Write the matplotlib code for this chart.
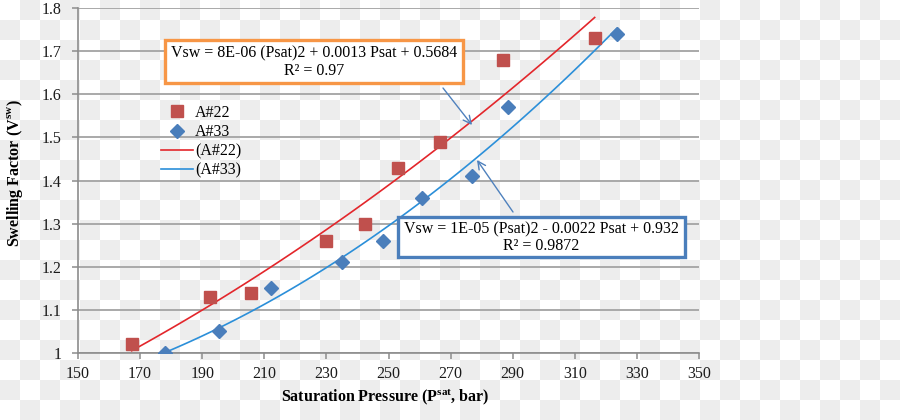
import numpy as np
import matplotlib.pyplot as plt
from matplotlib.patches import Rectangle
from matplotlib.lines import Line2D

plt.rcParams['font.family'] = ['Liberation Serif', 'DejaVu Serif']
plt.rcParams['mathtext.fontset'] = 'custom'
plt.rcParams['mathtext.rm'] = 'Liberation Serif'
plt.rcParams['mathtext.bf'] = 'Liberation Serif:bold'

# data
p22 = [167.3, 192.4, 205.8, 230.0, 242.3, 253.1, 266.7, 286.8, 316.4]
v22 = [1.02, 1.13, 1.14, 1.26, 1.30, 1.43, 1.49, 1.68, 1.73]
p33 = [178.0, 195.4, 212.0, 234.9, 248.2, 260.8, 276.8, 288.6, 323.5]
v33 = [1.00, 1.05, 1.15, 1.21, 1.26, 1.36, 1.41, 1.57, 1.74]

eq22 = "Vsw = 8E-06 (Psat)2 + 0.0013 Psat + 0.5684\nR\u00b2 = 0.97"
eq33 = "Vsw = 1E-05 (Psat)2 - 0.0022 Psat + 0.932\nR\u00b2 = 0.9872"

W, H = 900, 420
fig = plt.figure(figsize=(9, 4.2), dpi=100)

# checkerboard background (transparent png look)
yy, xx = np.mgrid[0:H, 0:W]
board = np.where(((xx // 20) + (yy // 20)) % 2 == 1, 0.93, 1.0)
fig.figimage(np.dstack([board] * 3), xo=0, yo=0, origin='upper', zorder=-10)


def fx(x):
    return x / W


def fy(y):
    return 1 - y / H


ax = fig.add_axes([fx(78), fy(353), fx(699) - fx(78), fy(8) - fy(353)])
ax.patch.set_alpha(0)

ax.set_xlim(150, 350)
ax.set_ylim(1, 1.8)
ax.set_xticks(np.arange(150, 351, 20))
ax.set_yticks(np.arange(1, 1.81, 0.1))
ax.set_yticklabels(['1', '1.1', '1.2', '1.3', '1.4', '1.5', '1.6', '1.7', '1.8'])
ax.grid(axis='y', color='#a3a3a3', lw=1.3)
ax.set_axisbelow(True)
for s in ['top', 'right']:
    ax.spines[s].set_visible(False)
for s in ['left', 'bottom']:
    ax.spines[s].set_color('#8c8c8c')
    ax.spines[s].set_linewidth(1.2)
ax.tick_params(colors='#8c8c8c', labelcolor='#1a1a1a', labelsize=11.5, length=4, width=1.1)
ax.tick_params(axis='x', pad=5)
ax.tick_params(axis='y', pad=8)

# trendlines (2nd order polynomial fit)
c22 = np.polyfit(p22, v22, 2)
c33 = np.polyfit(p33, v33, 2)
t22 = np.linspace(min(p22), max(p22), 100)
t33 = np.linspace(min(p33), max(p33), 100)
ax.plot(t22, np.polyval(c22, t22), color='#e3262b', lw=1.2, zorder=3)
ax.plot(t33, np.polyval(c33, t33), color='#2b8fd9', lw=1.2, zorder=3)

ax.plot(p22, v22, 's', color='#c0504d', ms=8.5, zorder=4, ls='none')
ax.plot(p33, v33, 'D', color='#4a7ebb', ms=7, zorder=4, ls='none')

ax.set_xlabel(r'Saturation Pressure (P$^{\mathbf{sat}}$, bar)', fontsize=11.5,
              fontweight='bold', va='center')
ax.set_ylabel(r'Swelling Factor (V$^{\mathbf{sw}}$)', fontsize=11.5,
              fontweight='bold', va='center')
ax.xaxis.set_label_coords(0.495, -0.128)
ax.yaxis.set_label_coords(-0.101, 0.52)

# legend
handles = [
    Line2D([], [], marker='s', color='#c0504d', ls='none', ms=8.5),
    Line2D([], [], marker='D', color='#4a7ebb', ls='none', ms=7),
    Line2D([], [], color='#e3262b', lw=1.2),
    Line2D([], [], color='#2b8fd9', lw=1.2),
]
fig.legend(handles, ['A#22', 'A#33', '(A#22)', '(A#33)'], loc='upper left',
           bbox_to_anchor=(fx(161), fy(105)), frameon=False, fontsize=11.5,
           borderpad=0, borderaxespad=0, handlelength=2.0, handletextpad=0.15,
           labelspacing=0.2)

# equation boxes
fig.patches.append(Rectangle((fx(165), fy(83)), fx(463) - fx(165), fy(40) - fy(83),
                             transform=fig.transFigure, fc='white', ec='#f79646',
                             lw=2.4, zorder=5))
fig.text(fx(314), fy(62), eq22, ha='center', va='center', fontsize=11.5,
         linespacing=1.1, zorder=6)
fig.patches.append(Rectangle((fx(398), fy(257)), fx(685) - fx(398), fy(217) - fy(257),
                             transform=fig.transFigure, fc='white', ec='#4a7ebb',
                             lw=2.4, zorder=5))
fig.text(fx(541.5), fy(237.5), eq33, ha='center', va='center', fontsize=11.5,
         linespacing=1.1, zorder=6)

arrow = dict(arrowstyle='->', color='#4f81bd', lw=1.0, mutation_scale=14,
             shrinkA=0, shrinkB=0)
fig.add_artist(plt.Annotation('', xy=(fx(472), fy(125)), xytext=(fx(443), fy(88)),
                              xycoords='figure fraction', textcoords='figure fraction',
                              arrowprops=arrow))
fig.add_artist(plt.Annotation('', xy=(fx(477), fy(160)), xytext=(fx(513), fy(212)),
                              xycoords='figure fraction', textcoords='figure fraction',
                              arrowprops=arrow))

fig.savefig('out.png', dpi=100)
